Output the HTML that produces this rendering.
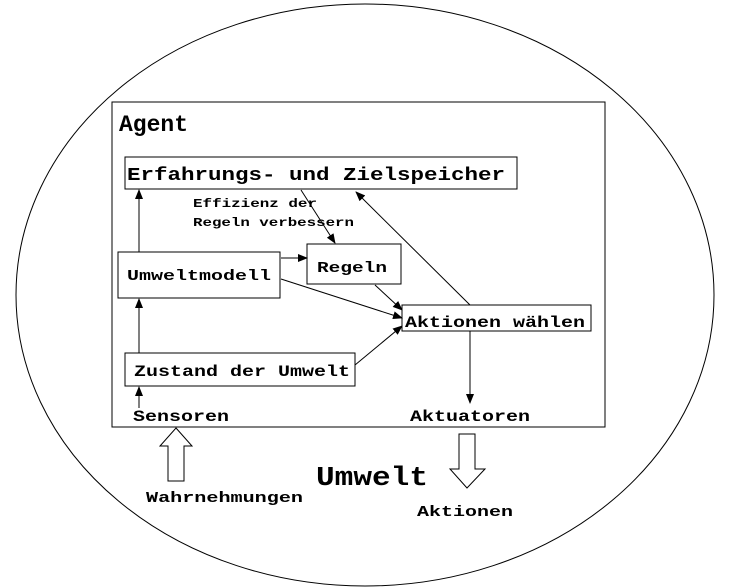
<!DOCTYPE html>
<html><head><style>html,body{margin:0;padding:0;background:#fff;}svg{display:block}</style></head>
<body>
<svg width="729" height="587" viewBox="0 0 729 587" xmlns="http://www.w3.org/2000/svg" font-family="Liberation Mono, monospace" font-weight="bold">
<defs><marker id="a" markerWidth="10" markerHeight="8" refX="9" refY="4" orient="auto" markerUnits="userSpaceOnUse"><path d="M0,0 L10,4 L0,8 z" fill="#000"/></marker></defs>
<ellipse cx="365" cy="295" rx="349" ry="291" fill="none" stroke="#000" stroke-width="1"/>
<rect x="112" y="102" width="493" height="325" fill="#fff" stroke="#000"/>
<text x="119" y="131" font-size="23">Agent</text>
<rect x="125" y="157" width="392" height="32" fill="none" stroke="#000"/>
<text x="127" y="180" font-size="18" textLength="378" lengthAdjust="spacingAndGlyphs">Erfahrungs- und Zielspeicher</text>
<text x="193" y="207" font-size="12" textLength="124" lengthAdjust="spacingAndGlyphs">Effizienz der</text>
<text x="193" y="226" font-size="12" textLength="161" lengthAdjust="spacingAndGlyphs">Regeln verbessern</text>
<rect x="118" y="252" width="162" height="46" fill="none" stroke="#000"/>
<text x="127" y="280" font-size="15" textLength="144" lengthAdjust="spacingAndGlyphs">Umweltmodell</text>
<rect x="307" y="244" width="94" height="40" fill="none" stroke="#000"/>
<text x="317" y="272" font-size="15" textLength="70" lengthAdjust="spacingAndGlyphs">Regeln</text>
<rect x="402" y="305" width="189" height="26" fill="none" stroke="#000"/>
<text x="405" y="327" font-size="16" textLength="180" lengthAdjust="spacingAndGlyphs">Aktionen wählen</text>
<rect x="125" y="353" width="230" height="33" fill="none" stroke="#000"/>
<text x="134" y="376" font-size="16" textLength="216" lengthAdjust="spacingAndGlyphs">Zustand der Umwelt</text>
<text x="133" y="421" font-size="16" textLength="96" lengthAdjust="spacingAndGlyphs">Sensoren</text>
<text x="410" y="421" font-size="16" textLength="120" lengthAdjust="spacingAndGlyphs">Aktuatoren</text>
<g stroke="#000" stroke-width="1" fill="none" marker-end="url(#a)">
<line x1="139" y1="252" x2="139" y2="190"/>
<line x1="139" y1="353" x2="139" y2="299"/>
<line x1="139" y1="408" x2="139" y2="387"/>
<line x1="281" y1="258" x2="307" y2="258"/>
<line x1="301" y1="190" x2="335" y2="243"/>
<line x1="281" y1="279" x2="402" y2="318"/>
<line x1="375" y1="285" x2="402" y2="310"/>
<line x1="355" y1="365" x2="402" y2="326"/>
<line x1="470" y1="305" x2="356" y2="192"/>
<line x1="470" y1="331" x2="470" y2="403"/>
</g>
<path d="M176,428 L192,446 L184,446 L184,481 L168,481 L168,446 L160,446 Z" fill="#fff" stroke="#000"/>
<path d="M459,434 L475,434 L475,469 L485,469 L467,488 L450,469 L459,469 Z" fill="#fff" stroke="#000"/>
<text x="316" y="485" font-size="27" textLength="112" lengthAdjust="spacingAndGlyphs">Umwelt</text>
<text x="146" y="502" font-size="15" textLength="157" lengthAdjust="spacingAndGlyphs">Wahrnehmungen</text>
<text x="417" y="516" font-size="15" textLength="96" lengthAdjust="spacingAndGlyphs">Aktionen</text>
</svg>
</body></html>
